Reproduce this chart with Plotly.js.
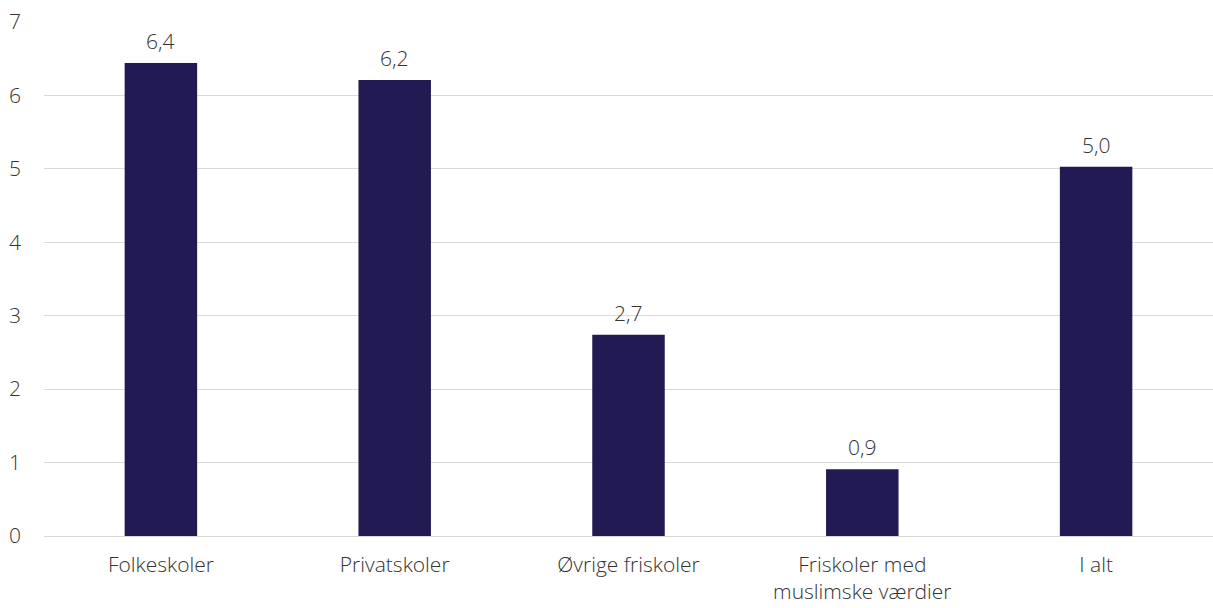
<!DOCTYPE html>
<html><head><meta charset="utf-8">
<script src="https://cdn.plot.ly/plotly-3.0.1.min.js"></script>
<style>html,body{margin:0;padding:0;background:#fff}#chart{width:1213px;height:608px}</style>
</head><body><div id="chart"></div>
<script>
const categories = ["Folkeskoler", "Privatskoler", "Øvrige friskoler", "Friskoler med<br>muslimske værdier", "I alt"];
const values = [6.44, 6.21, 2.74, 0.91, 5.03];
const tickValues = [0, 1, 2, 3, 4, 5, 6, 7];

const labels = values.map(v => v.toFixed(1).replace(".", ","));
const FONT = "'Open Sans', sans-serif";
const TXT = {family: FONT, size: 21, color: "#333333", weight: 300};

const trace = {
  type: "bar",
  x: categories,
  y: values,
  marker: {color: "#221A52"},
  hoverinfo: "none"
};

const annotations = categories.map((c, i) => ({
  x: c, y: values[i], xref: "x", yref: "y",
  text: labels[i], showarrow: false,
  yanchor: "bottom", yshift: 6,
  font: TXT
}));

const layout = {
  width: 1213, height: 608,
  margin: {l: 44, r: 0, t: 22, b: 72},
  paper_bgcolor: "#fff", plot_bgcolor: "#fff",
  bargap: 0.69,
  showlegend: false,
  font: TXT,
  annotations: annotations,
  xaxis: {
    showgrid: false, showline: false, ticks: "",
    ticklabelstandoff: 14,
    tickfont: TXT
  },
  yaxis: {
    range: [0, 7], tickvals: tickValues,
    showgrid: true, gridcolor: "#d9d9d9", gridwidth: 1,
    zeroline: true, zerolinecolor: "#d9d9d9", zerolinewidth: 1,
    showline: false, ticks: "",
    ticklabelstandoff: 22,
    tickfont: TXT
  }
};

Plotly.newPlot("chart", [trace], layout, {displayModeBar: false, staticPlot: true});
</script></body></html>
